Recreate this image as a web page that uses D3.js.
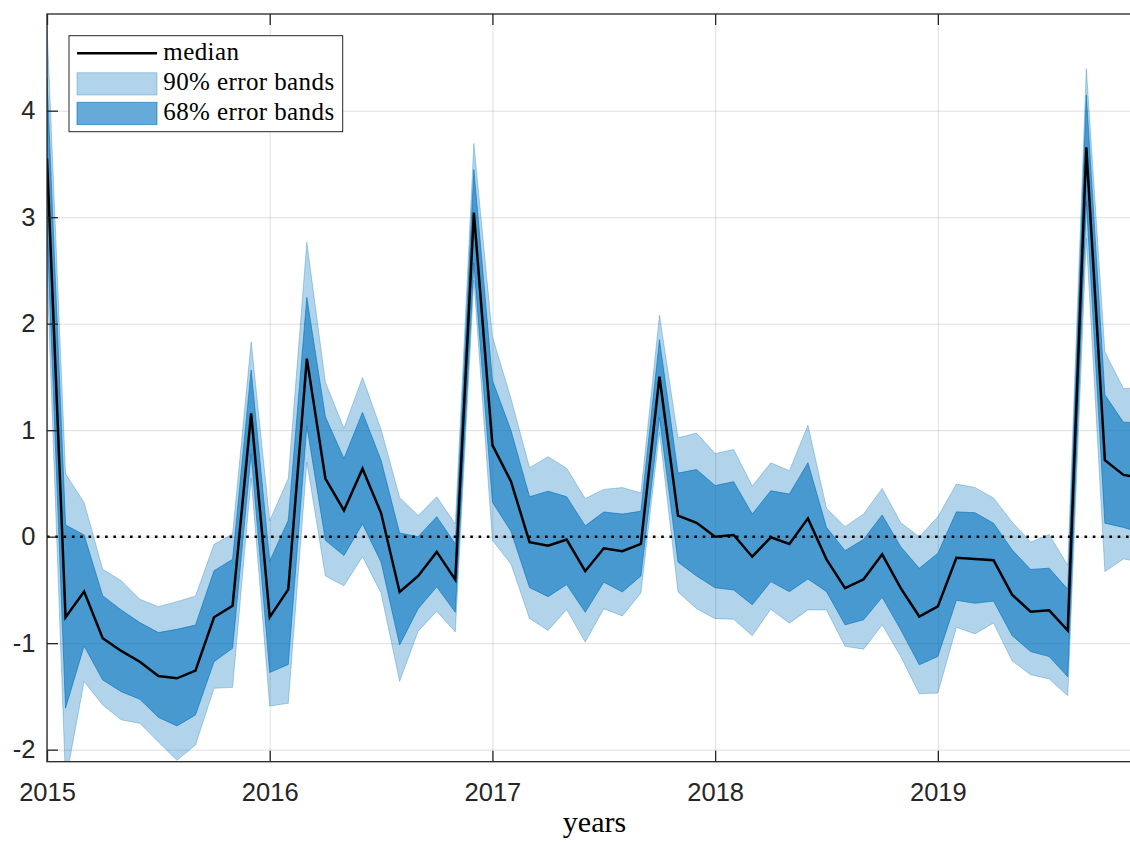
<!DOCTYPE html>
<html>
<head>
<meta charset="utf-8">
<script src="https://cdn.jsdelivr.net/npm/d3@7"></script>
<style>
  html, body { margin: 0; padding: 0; background: #ffffff; }
  svg { display: block; }
</style>
</head>
<body>
<svg id="chart" width="1130" height="842"></svg>
<script>
// ---- data (monthly, starting January 2015) ----
const startYear = 2015;
const yearTicks = [2015, 2016, 2017, 2018, 2019];
const yTicks = [-2, -1, 0, 1, 2, 3, 4];

const median = [3.55, -0.757, -0.516, -0.954, -1.073, -1.174, -1.308, -1.33, -1.258, -0.757, -0.648, 1.158,
  -0.755, -0.495, 1.672, 0.546, 0.246, 0.638, 0.222, -0.519, -0.369, -0.143, -0.403, 3.044,
  0.86, 0.519, -0.051, -0.085, -0.027, -0.324, -0.109, -0.137, -0.068, 1.502, 0.198, 0.13,
  0.0, 0.016, -0.188, -0.006, -0.069, 0.172, -0.2125, -0.484, -0.4, -0.166, -0.484, -0.75,
  -0.654, -0.198, -0.209, -0.221, -0.545, -0.704, -0.692, -0.881, 3.656, 0.719, 0.58, 0.55];

const upper68 = [4.3, 0.11, 0.016, -0.554, -0.688, -0.807, -0.90, -0.87, -0.83, -0.319, -0.213, 1.565,
  -0.23, 0.154, 2.246, 1.126, 0.734, 1.167, 0.717, 0.034, 0.0, 0.188, -0.068, 3.447,
  1.468, 0.997, 0.375, 0.427, 0.375, 0.102, 0.232, 0.212, 0.239, 1.85, 0.597, 0.631,
  0.48, 0.516, 0.2125, 0.431, 0.4, 0.694, 0.0875, -0.131, -0.025, 0.203, -0.094, -0.297,
  -0.156, 0.233, 0.225, 0.126, -0.123, -0.308, -0.296, -0.494, 4.146, 1.332, 1.075, 1.07];

const upper90 = [4.8, 0.59, 0.32, -0.306, -0.413, -0.588, -0.657, -0.61, -0.557, -0.072, 0.025, 1.83,
  0.15, 0.546, 2.765, 1.45, 1.017, 1.495, 1.007, 0.369, 0.198, 0.375, 0.119, 3.693,
  1.877, 1.297, 0.648, 0.751, 0.642, 0.358, 0.444, 0.461, 0.41, 2.08, 0.928, 0.973,
  0.78, 0.819, 0.475, 0.694, 0.619, 1.047, 0.266, 0.094, 0.2125, 0.453, 0.131, 0.0,
  0.187, 0.494, 0.462, 0.364, 0.138, -0.051, 0.02, -0.269, 4.395, 1.735, 1.391, 1.40];

const lower68 = [2.9, -1.61, -1.026, -1.345, -1.455, -1.527, -1.696, -1.777, -1.674, -1.174, -1.048, 0.78,
  -1.275, -1.2, 1.04, -0.034, -0.177, 0.12, -0.239, -1.017, -0.676, -0.471, -0.71, 2.57,
  0.324, 0.05, -0.478, -0.563, -0.45, -0.71, -0.427, -0.519, -0.369, 1.12, -0.239, -0.369,
  -0.48, -0.5, -0.64, -0.422, -0.516, -0.397, -0.516, -0.828, -0.78, -0.569, -0.875, -1.203,
  -1.125, -0.597, -0.625, -0.605, -0.929, -1.079, -1.126, -1.316, 3.15, 0.126, 0.087, 0.03];

const lower90 = [2.5, -2.3, -1.36, -1.58, -1.72, -1.752, -1.928, -2.10, -1.956, -1.424, -1.415, 0.55,
  -1.59, -1.565, 0.70, -0.369, -0.46, -0.188, -0.529, -1.358, -0.887, -0.70, -0.894, 2.41,
  -0.034, -0.256, -0.768, -0.88, -0.683, -0.99, -0.676, -0.744, -0.529, 0.98, -0.519, -0.676,
  -0.77, -0.775, -0.93, -0.681, -0.8125, -0.6875, -0.6875, -1.03, -1.056, -0.828, -1.125, -1.475,
  -1.468, -0.85, -0.913, -0.81, -1.166, -1.296, -1.336, -1.494, 2.8, -0.328, -0.209, -0.24];

const legendLabels = ["median", "90% error bands", "68% error bands"];
const xLabel = "years";

// ---- layout ----
const plot = { left: 47, top: 14, right: 1142, bottom: 761.7 };
const yDomain = [-2.113, 4.908];
const blue = "#0072bd";
const axisColor = "#262626";

const times = median.map((_, i) => startYear + i / 12);
const rows = times.map((t, i) => ({
  t, med: median[i], u68: upper68[i], l68: lower68[i], u90: upper90[i], l90: lower90[i]
}));

const x = d3.scaleLinear().domain([times[0], times[times.length - 1]]).range([plot.left, plot.right]);
const y = d3.scaleLinear().domain(yDomain).range([plot.bottom, plot.top]);

const svg = d3.select("#chart");
const W = plot.right - plot.left, H = plot.bottom - plot.top;

svg.append("defs").append("clipPath").attr("id", "clip")
  .append("rect").attr("x", plot.left).attr("y", plot.top).attr("width", W).attr("height", H);

// grid
const gridX = svg.append("g").attr("transform", `translate(0,${plot.bottom})`)
  .call(d3.axisBottom(x).tickValues(yearTicks).tickSize(-H).tickFormat(""));
const gridY = svg.append("g").attr("transform", `translate(${plot.left},0)`)
  .call(d3.axisLeft(y).tickValues(yTicks).tickSize(-W).tickFormat(""));
[gridX, gridY].forEach(g => {
  g.select(".domain").remove();
  g.selectAll("line").attr("stroke", axisColor).attr("stroke-opacity", 0.15).attr("stroke-width", 1);
});

const data = svg.append("g").attr("clip-path", "url(#clip)");

const area90 = d3.area().x(d => x(d.t)).y0(d => y(d.l90)).y1(d => y(d.u90));
const area68 = d3.area().x(d => x(d.t)).y0(d => y(d.l68)).y1(d => y(d.u68));

data.append("path").datum(rows).attr("d", area90)
  .attr("fill", blue).attr("fill-opacity", 0.3)
  .attr("stroke", blue).attr("stroke-opacity", 0.3).attr("stroke-width", 1);
data.append("path").datum(rows).attr("d", area68)
  .attr("fill", blue).attr("fill-opacity", 0.6)
  .attr("stroke", blue).attr("stroke-opacity", 0.6).attr("stroke-width", 1);

// zero line
data.append("line")
  .attr("x1", plot.left).attr("x2", plot.right)
  .attr("y1", y(0)).attr("y2", y(0))
  .attr("stroke", "#000").attr("stroke-width", 2.6)
  .attr("stroke-dasharray", "2.6 5.7");

// median
data.append("path").datum(rows)
  .attr("d", d3.line().x(d => x(d.t)).y(d => y(d.med)))
  .attr("fill", "none").attr("stroke", "#000").attr("stroke-width", 2.5)
  .attr("stroke-linejoin", "miter");

// axes
function styleAxis(g) {
  g.select(".domain").remove();
  g.selectAll("line").attr("stroke", axisColor).attr("stroke-width", 1.3);
  g.selectAll("text").attr("fill", axisColor)
    .style("font-family", "'Liberation Sans', Arial, Helvetica, sans-serif")
    .style("font-size", "25.5px");
}
svg.append("g").attr("transform", `translate(0,${plot.bottom})`)
  .call(d3.axisBottom(x).tickValues(yearTicks).tickSize(-11).tickPadding(21.5).tickFormat(d => String(d)))
  .call(styleAxis);
svg.append("g").attr("transform", `translate(0,${plot.top})`)
  .call(d3.axisTop(x).tickValues(yearTicks).tickSize(-11).tickFormat(""))
  .call(styleAxis);
svg.append("g").attr("transform", `translate(${plot.left},0)`)
  .call(d3.axisLeft(y).tickValues(yTicks).tickSize(-11).tickPadding(11.5).tickFormat(d => String(d)))
  .call(styleAxis);
svg.append("g").attr("transform", `translate(${plot.right},0)`)
  .call(d3.axisRight(y).tickValues(yTicks).tickSize(-11).tickFormat(""))
  .call(styleAxis);

svg.append("rect").attr("x", plot.left).attr("y", plot.top).attr("width", W).attr("height", H)
  .attr("fill", "none").attr("stroke", axisColor).attr("stroke-width", 1.3);

// x label
svg.append("text").attr("x", (plot.left + plot.right) / 2).attr("y", 832)
  .attr("text-anchor", "middle").attr("fill", "#000")
  .style("font-family", "'Liberation Serif', 'Times New Roman', serif").style("font-size", "30px")
  .text(xLabel);

// legend
const lg = svg.append("g");
lg.append("rect").attr("x", 69).attr("y", 35.7).attr("width", 273.7).attr("height", 96)
  .attr("fill", "#fff").attr("stroke", axisColor).attr("stroke-width", 1);
lg.append("line").attr("x1", 77).attr("x2", 157).attr("y1", 53.3).attr("y2", 53.3)
  .attr("stroke", "#000").attr("stroke-width", 2.5);
lg.append("rect").attr("x", 77).attr("y", 72.7).attr("width", 80).attr("height", 22.3)
  .attr("fill", blue).attr("fill-opacity", 0.3).attr("stroke", blue).attr("stroke-opacity", 0.3);
lg.append("rect").attr("x", 77).attr("y", 102.3).attr("width", 80).attr("height", 22.3)
  .attr("fill", blue).attr("fill-opacity", 0.6).attr("stroke", blue).attr("stroke-opacity", 0.6);
const baselines = [60, 90, 119.5];
legendLabels.forEach((lab, i) => {
  lg.append("text").attr("x", 163.3).attr("y", baselines[i]).attr("fill", "#000")
    .style("font-family", "'Liberation Serif', 'Times New Roman', serif").style("font-size", "25px")
    .style("letter-spacing", "0.4px")
    .text(lab);
});
</script>
</body>
</html>
